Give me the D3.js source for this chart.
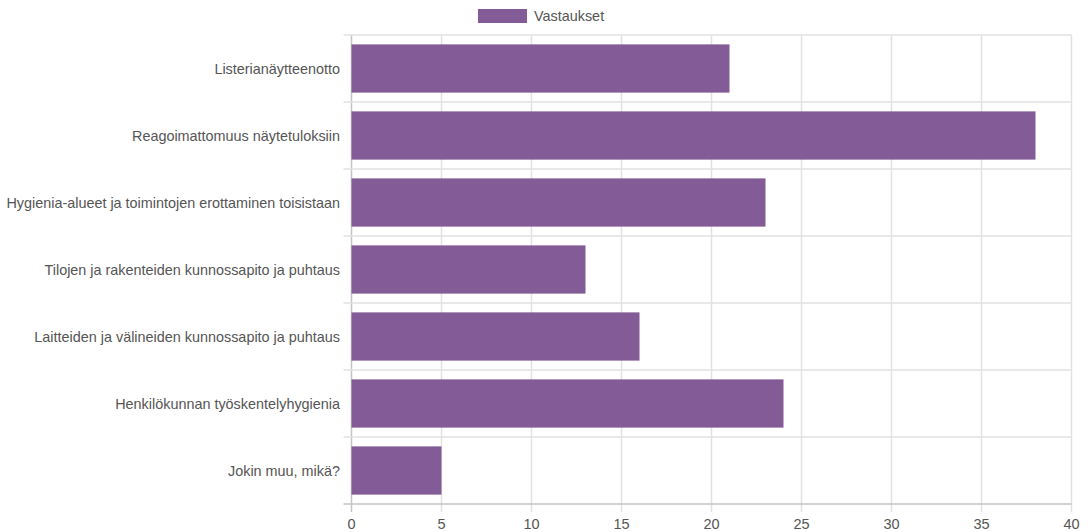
<!DOCTYPE html>
<html><head><meta charset="utf-8">
<script src="https://cdn.jsdelivr.net/npm/d3@7/dist/d3.min.js"></script>
<style>body{margin:0;background:#fff}svg{display:block}</style>
</head><body>
<script>
const categories = ["Listerianäytteenotto","Reagoimattomuus näytetuloksiin","Hygienia-alueet ja toimintojen erottaminen toisistaan","Tilojen ja rakenteiden kunnossapito ja puhtaus","Laitteiden ja välineiden kunnossapito ja puhtaus","Henkilökunnan työskentelyhygienia","Jokin muu, mikä?"];
const values = [21, 38, 23, 13, 16, 24, 5];
const xTicks = [0,5,10,15,20,25,30,35,40];
const seriesName = "Vastaukset";

const W = 1092, H = 532;
const m = {left: 351.5, right: 1071.5, top: 35, bottom: 504};
const color = "#835b96";
const font = "'Liberation Sans', Arial, sans-serif";
const textColor = "#555";

const svg = d3.select("body").append("svg").attr("width", W).attr("height", H);
const x = d3.scaleLinear().domain([0, 40]).range([m.left, m.right]);
const y = d3.scaleBand().domain(categories).range([m.top, m.bottom]);

// vertical grid
svg.append("g").selectAll("line").data(xTicks).join("line")
  .attr("x1", d => x(d)).attr("x2", d => x(d))
  .attr("y1", m.top).attr("y2", m.bottom + 8)
  .attr("stroke", d => d === 0 ? "#c4c4c4" : "#e2e2e2").attr("stroke-width", 1.5);

// horizontal grid at category boundaries
const bounds = categories.map(c => y(c)).concat([m.bottom]);
svg.append("g").selectAll("line").data(bounds).join("line")
  .attr("x1", m.left - 8).attr("x2", m.right)
  .attr("y1", d => d).attr("y2", d => d)
  .attr("stroke", (d,i) => i === bounds.length - 1 ? "#c4c4c4" : "#e2e2e2").attr("stroke-width", 1.5);

// bars
const bh = y.bandwidth() * 0.72;
svg.append("g").selectAll("rect").data(values).join("rect")
  .attr("x", x(0)).attr("y", (d,i) => y(categories[i]) + (y.bandwidth() - bh) / 2)
  .attr("width", d => x(d) - x(0)).attr("height", bh)
  .attr("fill", color);

// x tick labels
svg.append("g").selectAll("text").data(xTicks).join("text")
  .attr("x", d => x(d)).attr("y", 529).attr("text-anchor", "middle")
  .attr("font-family", font).attr("font-size", 14.5).attr("fill", textColor).text(d => d);

// category labels
svg.append("g").selectAll("text").data(categories).join("text")
  .attr("x", 340).attr("y", d => y(d) + y.bandwidth() / 2).attr("dy", "0.35em")
  .attr("text-anchor", "end").attr("font-family", font).attr("font-size", 14.4)
  .attr("fill", textColor).text(d => d);

// legend
svg.append("rect").attr("x", 478).attr("y", 9).attr("width", 49).attr("height", 14).attr("fill", color);
svg.append("text").attr("x", 534).attr("y", 16).attr("dy", "0.35em")
  .attr("font-family", font).attr("font-size", 14.4).attr("fill", textColor).text(seriesName);
</script>
</body></html>
